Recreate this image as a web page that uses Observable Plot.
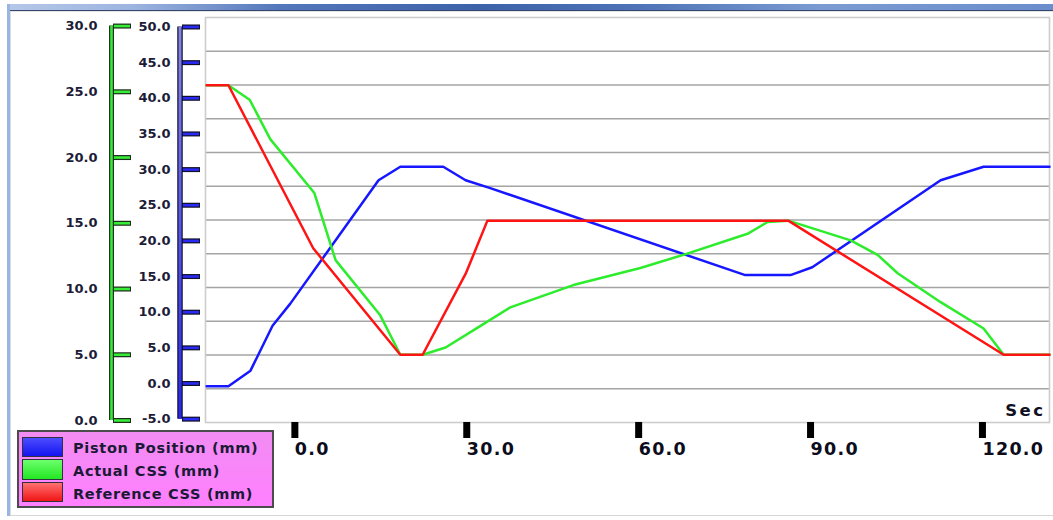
<!DOCTYPE html>
<html><head><meta charset="utf-8">
<script src="https://cdn.jsdelivr.net/npm/d3@7"></script>
<script src="https://cdn.jsdelivr.net/npm/@observablehq/plot@0.6"></script>
<style>
html,body{margin:0;padding:0;background:#fff;overflow:hidden}
#wrap{position:relative;width:1053px;height:520px;font-family:"DejaVu Sans",sans-serif}
#chart svg{display:block}
.abs{position:absolute;box-sizing:border-box}
#chart g[aria-label="x-axis tick label"]{font-weight:bold;font-size:17.5px}
#chart g[aria-label="x-axis tick label"] text{letter-spacing:1.3px}
#chart g[aria-label="y-axis tick label"]{font-weight:bold;font-size:13px}
#chart g[aria-label="text"]{font-weight:bold}
#chart g[aria-label="text"] text{letter-spacing:2.5px}
.lgtext{position:absolute;font-size:14.5px;line-height:14.5px;font-weight:bold;letter-spacing:0.7px;color:#1a1a36;white-space:nowrap}
</style></head>
<body><div id="wrap"><div id="chart"></div></div>
<script>
// ---- data ----
const seriesNames = ["Piston Position (mm)", "Actual CSS (mm)", "Reference CSS (mm)"];
const seriesColors = ["#1717ff", "#2cec2c", "#ff1414"];

const xTicks = [0, 30, 60, 90, 120];
const pistonTicks = [-5, 0, 5, 10, 15, 20, 25, 30, 35, 40, 45, 50];
const cssTicks = [0, 5, 10, 15, 20, 25, 30];

const pistonT  = [-14.0, -10.2, -6.35, -2.5, 0.6, 16.0, 19.8, 27.3, 31.2, 35.5, 80.0, 87.9, 91.7, 114.1, 121.6, 133.1];
const pistonMM = [-0.4, -0.4, 1.8, 8.1, 11.2, 28.5, 30.4, 30.4, 28.5, 27.4, 15.2, 15.2, 16.3, 28.5, 30.4, 30.4];

const actualT  = [-14.0, -10.2, -6.5, -2.9, 4.8, 8.5, 16.3, 19.8, 23.7, 27.7, 33.8, 39.0, 50.0, 61.7, 69.2, 80.4, 83.9, 87.5, 98.4, 103.1, 106.6, 114.1, 121.6, 125.1, 133.1];
const actualMM = [25.5, 25.5, 24.4, 21.4, 17.3, 12.2, 8.0, 5.0, 5.0, 5.55, 7.2, 8.6, 10.3, 11.6, 12.6, 14.2, 15.1, 15.2, 13.7, 12.6, 11.2, 9.0, 7.0, 5.0, 5.0];

const refT  = [-14.0, -10.2, 4.6, 19.8, 23.7, 31.3, 35.0, 87.5, 125.1, 133.1];
const refMM = [25.5, 25.5, 13.1, 5.0, 5.0, 11.25, 15.2, 15.2, 5.0, 5.0];

// ---- scales / layout ----
const timeDomain = [-14.2, 133.1];
const pistonDomain = [-5.47, 51.33];
const cssSpan = [-5.19, 50.13];           // piston-axis values where CSS 0 and 30 sit
const cssToY = d3.scaleLinear().domain([0, 30]).range(cssSpan);
const gridValues = d3.range(13).map(i => pistonDomain[0] + i * (pistonDomain[1] - pistonDomain[0]) / 12);

const toRows = (T, V) => T.map((t, i) => ({t, v: V[i]}));
const pistonData = toRows(pistonT, pistonMM);
const actualData = toRows(actualT, actualMM);
const refData = toRows(refT, refMM);

const fmt = d => (Math.round(d * 10) / 10).toFixed(1);
const labelColor = "#1c1c38";

const plot = Plot.plot({
  width: 1053, height: 520,
  marginLeft: 205, marginRight: 4, marginTop: 17, marginBottom: 98,
  style: {fontFamily: "DejaVu Sans, sans-serif", background: "white"},
  x: {domain: timeDomain, axis: null, label: null},
  y: {domain: pistonDomain, axis: null, label: null},
  marks: [
    Plot.ruleY(gridValues.slice(1, -1), {stroke: "#a4a4a4", strokeWidth: 1.6}),
    Plot.frame({stroke: "#cdcdcd", strokeWidth: 1.6}),
    Plot.text(["Sec"], {frameAnchor: "bottom-right", dx: -4, dy: -7, textAnchor: "end", lineAnchor: "bottom", fontSize: 16.5, fontWeight: "bold", fill: "#101020"}),
    Plot.line(pistonData, {x: "t", y: "v", stroke: seriesColors[0], strokeWidth: 2.5}),
    Plot.line(actualData, {x: "t", y: d => cssToY(d.v), stroke: seriesColors[1], strokeWidth: 2.5}),
    Plot.line(refData, {x: "t", y: d => cssToY(d.v), stroke: seriesColors[2], strokeWidth: 2.5}),
    // x axis
    Plot.axisX({anchor: "bottom", label: null, ticks: xTicks, tickFormat: fmt, tickSize: 16, tickPadding: 4,
      stroke: "#000", strokeWidth: 7, color: "#0c0c1c", textAnchor: "start", dx: 8,
      fontSize: 17.5, fontWeight: "bold"}),
    // piston (blue) axis
    Plot.ruleX([timeDomain[0]], {y1: -5, y2: 50, dx: -25.5, stroke: "#121230", strokeWidth: 5.5}),
    Plot.ruleX([timeDomain[0]], {y1: -5, y2: 50, dx: -25.5, stroke: "#3333ee", strokeWidth: 3}),
    Plot.axisY({anchor: "left", label: null, ticks: pistonTicks, tickFormat: fmt, tickSize: 18, tickPadding: 12, dx: -5,
      stroke: "#101028", strokeWidth: 5, color: labelColor, fontSize: 13, fontWeight: "bold"}),
    Plot.axisY({anchor: "left", label: null, ticks: pistonTicks, tickFormat: () => "", tickSize: 16, dx: -6,
      stroke: "#2a2af5", strokeWidth: 2.6}),
    // CSS (green) axis
    Plot.ruleX([timeDomain[0]], {y1: cssToY(0), y2: cssToY(30), dx: -94, stroke: "#223322", strokeWidth: 5}),
    Plot.ruleX([timeDomain[0]], {y1: cssToY(0), y2: cssToY(30), dx: -94, stroke: "#38e838", strokeWidth: 2.6}),
    Plot.axisY({anchor: "left", label: null, ticks: cssTicks.map(cssToY), tickFormat: d => fmt(cssToY.invert(d)), tickSize: 18, tickPadding: 16, dx: -74,
      stroke: "#1c2c1c", strokeWidth: 5, color: labelColor, fontSize: 13, fontWeight: "bold"}),
    Plot.axisY({anchor: "left", label: null, ticks: cssTicks.map(cssToY), tickFormat: () => "", tickSize: 16, dx: -75,
      stroke: "#36ec36", strokeWidth: 2.6})
  ]
});

// gradient on the blue axis bar
const sel = d3.select(plot);
const grad = sel.append("defs").append("linearGradient").attr("id", "blueBar")
  .attr("gradientUnits", "userSpaceOnUse").attr("x1", 0).attr("y1", 26).attr("x2", 0).attr("y2", 419);
grad.append("stop").attr("offset", 0).attr("stop-color", "#8686e2");
grad.append("stop").attr("offset", 1).attr("stop-color", "#2626f0");
sel.selectAll('g[stroke="#3333ee"]').attr("stroke", "url(#blueBar)");

document.getElementById("chart").appendChild(plot);

// ---- window chrome ----
const wrap = document.getElementById("wrap");
function box(style) { const d = document.createElement("div"); d.className = "abs"; Object.assign(d.style, style); wrap.appendChild(d); return d; }
box({left: "7px", top: "4px", width: "1046px", height: "7px",
  background: "linear-gradient(to right,#b6c8e8 0%,#9cb4e0 12%,#5477bb 26%,#3c62aa 45%,#4d72b6 60%,#7b9bd2 78%,#6a8dcc 100%)",
  borderBottom: "1px solid #34466e"});
box({left: "7px", top: "4px", width: "3px", height: "512px", background: "#9bb5e2"});
box({left: "10px", top: "11px", width: "1px", height: "505px", background: "#dcdcdc"});
box({left: "10px", top: "11px", width: "1043px", height: "1px", background: "#e4e4e4"});
box({left: "10px", top: "515px", width: "1043px", height: "1px", background: "#d6d6d6"});

// ---- legend ----
box({left: "17px", top: "430px", width: "257px", height: "78px", border: "2px solid #4c4c4c",
  background: "linear-gradient(#f28cf2,#ff80ff)"});
const swatchGrad = ["linear-gradient(#4d4dff,#1414f0)", "linear-gradient(#6cff6c,#24e624)", "linear-gradient(#ff7070,#f01414)"];
seriesNames.forEach((name, i) => {
  box({left: "21.5px", top: (436.5 + 22.5 * i) + "px", width: "41px", height: "20.5px",
    border: "1.5px solid #303040", background: swatchGrad[i]});
  const t = document.createElement("div");
  t.className = "lgtext";
  t.style.left = "73px";
  t.style.top = (453 + 23 * i - 12.3) + "px";
  t.textContent = name;
  wrap.appendChild(t);
});
</script>
</body></html>
